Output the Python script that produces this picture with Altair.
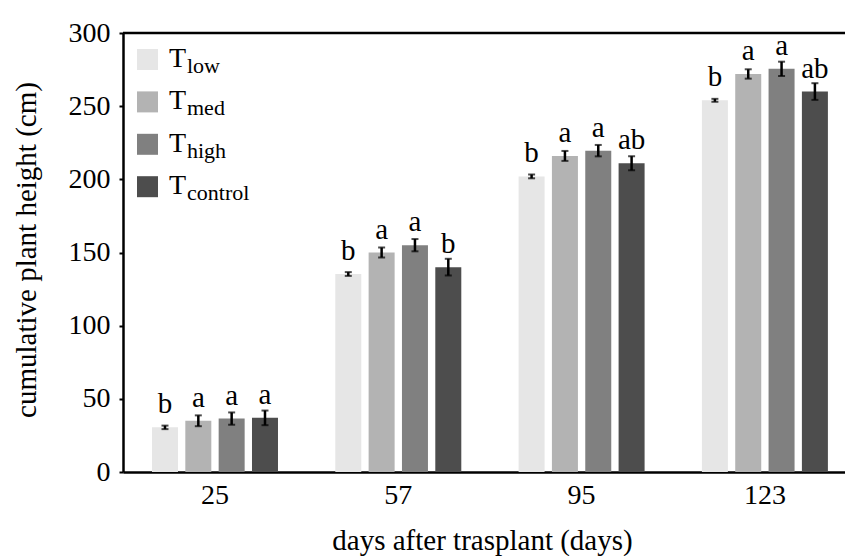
import altair as alt
import pandas as pd

# ---- data ----
days = ["25", "57", "95", "123"]
treatments = ["low", "med", "high", "control"]
colors = ["#e6e6e6", "#b3b3b3", "#808080", "#4d4d4d"]

mean_low = [30.5, 135.3, 202, 254]
mean_med = [35, 150, 216, 272]
mean_high = [36.5, 155, 219.6, 275.5]
mean_control = [37, 140, 211, 260]

err_low = [1.2, 1.3, 1.3, 1.0]
err_med = [3.7, 3.4, 3.4, 3.2]
err_high = [4.2, 4.2, 3.9, 4.9]
err_control = [5.0, 5.7, 4.8, 5.7]

letters_low = ["b", "b", "b", "b"]
letters_med = ["a", "a", "a", "a"]
letters_high = ["a", "a", "a", "a"]
letters_control = ["a", "b", "ab", "ab"]

y_ticks = [0, 50, 100, 150, 200, 250, 300]

FONT = "Liberation Serif"

means = [mean_low, mean_med, mean_high, mean_control]
errs = [err_low, err_med, err_high, err_control]
letters = [letters_low, letters_med, letters_high, letters_control]

rows = []
for t, m, e, l in zip(treatments, means, errs, letters):
    for d, mv, ev, lv in zip(days, m, e, l):
        rows.append({"day": d, "trt": t, "mean": mv, "lo": mv - ev, "hi": mv + ev, "letter": lv})
df = pd.DataFrame(rows)

W, H = 722, 439

xaxis = alt.Axis(
    title="days after trasplant (days)",
    labelAngle=0,
    ticks=False,
    domainColor="black",
    domainWidth=2.5,
    labelFont=FONT,
    labelFontSize=28,
    labelColor="black",
    labelPadding=9,
    titleFont=FONT,
    titleFontSize=29,
    titleFontWeight="normal",
    titleColor="black",
    titleX=359,
    titleY=77,
    titleAlign="center",
    titleBaseline="alphabetic",
)
xscale = alt.Scale(paddingInner=0.3126, paddingOuter=0.1257, align=0.629)


def X():
    return alt.X("day:N", sort=days, scale=xscale, axis=xaxis)


xoff = alt.XOffset("trt:N", sort=treatments, scale=alt.Scale(paddingInner=0.22, paddingOuter=0))

yscale = alt.Scale(domain=[0, 300], nice=False)
yaxis = alt.Axis(
    title="cumulative plant height (cm)",
    values=y_ticks,
    grid=False,
    domainColor="black",
    domainWidth=2.5,
    tickColor="black",
    tickWidth=2,
    tickSize=4,
    labelFont=FONT,
    labelFontSize=28,
    labelColor="black",
    labelPadding=9,
    titleFont=FONT,
    titleFontSize=29,
    titleFontWeight="normal",
    titleColor="black",
    titleX=-97,
    titleY=H / 2 - 3,
    titleAngle=270,
    titleAlign="center",
    titleBaseline="middle",
)


def Y(field):
    return alt.Y(field, scale=yscale, axis=yaxis)


base = alt.Chart(df)

bars = base.mark_bar().encode(
    x=X(),
    xOffset=xoff,
    y=Y("mean:Q"),
    color=alt.Color("trt:N", sort=treatments, scale=alt.Scale(domain=treatments, range=colors), legend=None),
)

err_rule = base.mark_rule(color="black", strokeWidth=2.5).encode(
    x=X(), xOffset=xoff, y=Y("lo:Q"), y2="hi:Q"
)

caps_hi = base.mark_tick(color="black", size=7, thickness=2, orient="horizontal").encode(
    x=X(), xOffset=xoff, y=Y("hi:Q")
)
caps_lo = base.mark_tick(color="black", size=7, thickness=2, orient="horizontal").encode(
    x=X(), xOffset=xoff, y=Y("lo:Q")
)

labels = base.mark_text(font=FONT, fontSize=29, color="black", baseline="alphabetic", dy=-14).encode(
    x=X(), xOffset=xoff, y=Y("mean:Q"), text="letter:N"
)

top_line = alt.Chart(pd.DataFrame({"v": [300]})).mark_rule(color="black", strokeWidth=2.5).encode(
    y=Y("v:Q"),
    x=alt.value(0),
    x2=alt.value(W),
)

# ---- custom legend with subscripts ----
legend_layers = []
one = pd.DataFrame({"k": [0]})
row_step = 42.4
for i, (t, c) in enumerate(zip(treatments, colors)):
    legend_layers.append(
        alt.Chart(one).mark_square(color=c, opacity=1, size=441).encode(
            x=alt.value(24.5), y=alt.value(26.5 + i * row_step)
        )
    )
    legend_layers.append(
        alt.Chart(one).mark_text(text="T", font=FONT, fontSize=28, color="black",
                                 align="left", baseline="alphabetic").encode(
            x=alt.value(46), y=alt.value(34 + i * row_step)
        )
    )
    legend_layers.append(
        alt.Chart(one).mark_text(text=t, font=FONT, fontSize=22, color="black",
                                 align="left", baseline="alphabetic").encode(
            x=alt.value(64), y=alt.value(39.7 + i * row_step)
        )
    )

chart = alt.layer(bars, err_rule, caps_hi, caps_lo, labels, top_line, *legend_layers).properties(
    width=W,
    height=H,
    autosize=alt.AutoSizeParams(type="none"),
    padding={"left": 123, "top": 33, "right": 0, "bottom": 84},
    background="white",
).configure_view(stroke=None)

chart.save("out.html", embed_options={"renderer": "svg", "actions": False})
